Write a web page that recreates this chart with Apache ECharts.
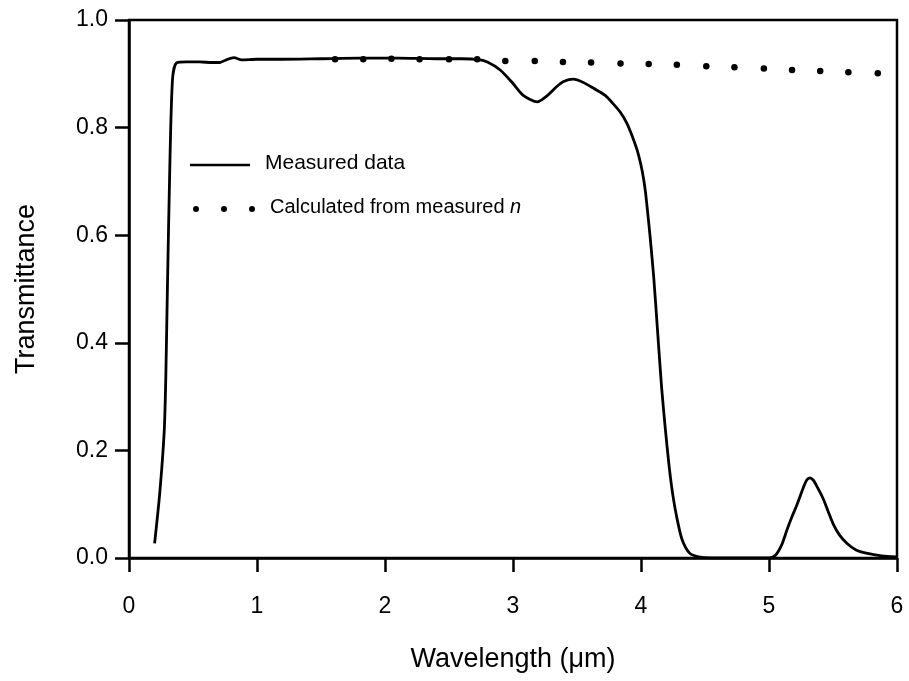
<!DOCTYPE html>
<html>
<head>
<meta charset="utf-8">
<script src="https://cdn.jsdelivr.net/npm/echarts@6/dist/echarts.min.js"></script>
<style>
html,body{margin:0;padding:0;background:#fff;}
#chart{width:909px;height:681px;}
</style>
</head>
<body>
<div id="chart"></div>
<script>
// Measured transmittance curve
var measuredX = [0.20,0.24,0.275,0.287,0.30,0.32,0.34,0.37,0.45,0.55,0.65,0.71,0.76,0.82,0.88,1.0,1.2,1.5,1.8,2.1,2.4,2.6,2.72,2.80,2.90,3.00,3.08,3.19,3.27,3.34,3.40,3.47,3.55,3.63,3.72,3.78,3.84,3.89,3.93,3.97,4.00,4.02,4.035,4.05,4.07,4.10,4.13,4.16,4.19,4.22,4.25,4.28,4.32,4.38,4.45,4.55,5.00,5.05,5.10,5.14,5.18,5.22,5.27,5.295,5.32,5.345,5.37,5.42,5.46,5.50,5.55,5.61,5.68,5.76,5.88,6.00];
var measuredY = [0.027,0.12,0.235,0.33,0.50,0.74,0.89,0.920,0.922,0.922,0.921,0.921,0.926,0.930,0.926,0.927,0.927,0.928,0.929,0.929,0.928,0.928,0.927,0.922,0.907,0.882,0.860,0.848,0.860,0.876,0.886,0.890,0.884,0.873,0.860,0.845,0.828,0.808,0.785,0.758,0.730,0.705,0.680,0.647,0.60,0.52,0.42,0.32,0.24,0.17,0.115,0.075,0.035,0.009,0.002,0.0,0.0,0.005,0.025,0.052,0.077,0.10,0.132,0.145,0.149,0.145,0.135,0.112,0.088,0.064,0.043,0.027,0.015,0.009,0.004,0.002];
// Calculated from measured n (dots)
var calcX = [1.61,1.83,2.05,2.27,2.50,2.72,2.94,3.17,3.39,3.61,3.84,4.06,4.28,4.51,4.73,4.96,5.18,5.40,5.62,5.85];
var calcY = [0.927,0.927,0.928,0.927,0.927,0.927,0.924,0.924,0.922,0.921,0.919,0.918,0.917,0.914,0.912,0.910,0.907,0.905,0.903,0.901];
var xTicks = [0,1,2,3,4,5,6];
var yTicks = [0.0,0.2,0.4,0.6,0.8,1.0];
var legendNames = ['Measured data','Calculated from measured '];

var FONT = 'Liberation Sans, Arial, sans-serif';
function zip(a,b){return a.map(function(v,i){return [v,b[i]];});}

var chart = echarts.init(document.getElementById('chart'), null, {renderer:'canvas'});
chart.setOption({
  animation:false,
  backgroundColor:'#fff',
  grid:{left:129,right:12,top:20,bottom:123,show:true,borderColor:'#000',borderWidth:2.5},
  xAxis:{
    type:'value',min:xTicks[0],max:xTicks[xTicks.length-1],interval:1,
    name:'Wavelength (\u03bcm)',nameLocation:'middle',nameGap:88,
    nameTextStyle:{fontFamily:FONT,fontSize:27,color:'#000'},
    axisLine:{show:true,lineStyle:{color:'#000',width:2.5}},
    axisTick:{show:true,inside:false,length:14,lineStyle:{color:'#000',width:2.5}},
    axisLabel:{fontFamily:FONT,fontSize:23,color:'#000',margin:37,
      formatter:function(v){return xTicks.indexOf(v)>=0?String(v):'';}},
    splitLine:{show:false}
  },
  yAxis:{
    type:'value',min:yTicks[0],max:yTicks[yTicks.length-1],interval:0.2,
    name:'Transmittance',nameLocation:'middle',nameGap:89,nameRotate:90,
    nameTextStyle:{fontFamily:FONT,fontSize:27,color:'#000'},
    axisLine:{show:true,lineStyle:{color:'#000',width:2.5}},
    axisTick:{show:true,inside:false,length:14,lineStyle:{color:'#000',width:2.5}},
    axisLabel:{fontFamily:FONT,fontSize:23,color:'#000',margin:21,
      formatter:function(v){return v.toFixed(1);}},
    splitLine:{show:false}
  },
  graphic:[
    {type:'line',shape:{x1:190,y1:165,x2:250,y2:165},style:{stroke:'#000',lineWidth:2.5}},
    {type:'text',left:265,top:153,style:{text:legendNames[0],font:'21px '+FONT,fill:'#000'}},
    {type:'circle',shape:{cx:196,cy:209,r:3},style:{fill:'#000'}},
    {type:'circle',shape:{cx:224,cy:209,r:3},style:{fill:'#000'}},
    {type:'circle',shape:{cx:252,cy:209,r:3},style:{fill:'#000'}},
    {type:'text',left:270,top:197,style:{text:'{a|'+legendNames[1]+'}{i|n}',fill:'#000',
      rich:{a:{fontFamily:FONT,fontSize:20,fill:'#000'},i:{fontFamily:FONT,fontSize:20,fontStyle:'italic',fill:'#000'}}}}
  ],
  series:[
    {name:'Measured data',type:'line',data:zip(measuredX,measuredY),showSymbol:false,symbol:'none',
      smooth:0.25,lineStyle:{color:'#000',width:2.8},z:2},
    {name:'Calculated from measured n',type:'scatter',data:zip(calcX,calcY),symbol:'circle',symbolSize:6.5,
      itemStyle:{color:'#000',opacity:1},z:3}
  ]
});
</script>
</body>
</html>
